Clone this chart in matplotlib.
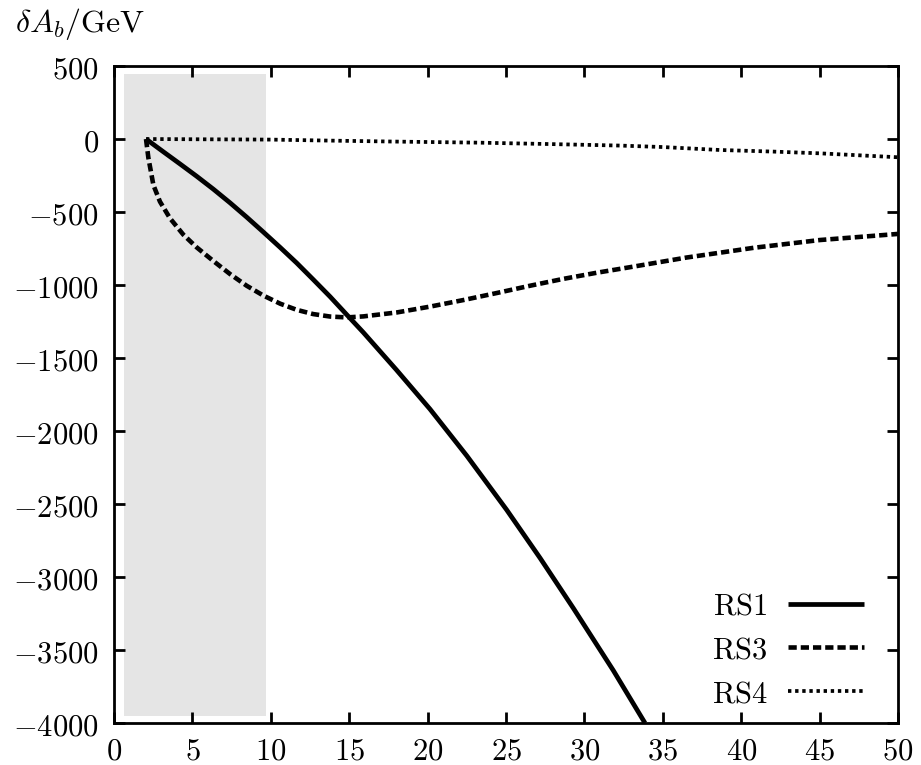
import matplotlib
matplotlib.use("Agg")
import matplotlib.pyplot as plt
from matplotlib.ticker import FuncFormatter, MultipleLocator
from matplotlib.patches import Rectangle

plt.rcParams["mathtext.fontset"] = "cm"
plt.rcParams["font.family"] = "DejaVu Serif"

# RS1: solid curve
rs1_x = [2.04, 3.14, 4.2, 5.27, 6.33, 7.4, 8.46, 9.52, 10.6, 11.65, 12.7,
         13.78, 14.84, 15.9, 18.0, 20.15, 22.5, 25.04, 27.17, 29.3, 31.84,
         33.86]
rs1_y = [0, -87, -170, -255, -343, -437, -535, -637, -743, -849, -962,
         -1080, -1203, -1325, -1580, -1850, -2170, -2540, -2870, -3215,
         -3640, -4000]

# RS3: dashed curve
rs3_x = [2.04, 2.19, 2.51, 2.93, 3.57, 4.42, 5.27, 6.33, 7.4, 8.46, 9.52,
         10.6, 11.65, 12.7, 13.78, 14.84, 15.9, 18.03, 20.15, 22.28, 24.4,
         26.53, 28.65, 30.78, 32.9, 36.5, 40.8, 45.0, 50.0]
rs3_y = [0, -128, -315, -429, -543, -655, -742, -835, -925, -1005, -1072,
         -1128, -1170, -1199, -1216, -1222, -1215, -1188, -1148, -1103,
         -1055, -1005, -958, -916, -878, -812, -745, -692, -650]

# RS4: dotted curve
rs4_x = [2.04, 6, 10, 13.8, 18.2, 23.3, 28, 32.3, 35, 38.6, 42, 45, 50]
rs4_y = [0, -2, -4, -11, -18, -25, -35, -45, -55, -75, -86, -98, -125]

# shaded band
band_x = [0.64, 9.7]
band_y = [-3955, 445]

series_labels = ["RS1", "RS3", "RS4"]

fig = plt.figure(figsize=(9.21, 7.65), dpi=100)
ax = fig.add_axes([0.1238, 0.0549, 0.8513, 0.8588])

ax.add_patch(Rectangle((band_x[0], band_y[0]), band_x[1] - band_x[0],
                       band_y[1] - band_y[0], facecolor="#e5e5e5",
                       edgecolor="none", zorder=0))

ax.plot(rs1_x, rs1_y, color="black", lw=3.4, solid_capstyle="butt",
        solid_joinstyle="round",
        label=r"$\mathrm{%s}$" % series_labels[0])
ax.plot(rs3_x, rs3_y, color="black", lw=3.3, linestyle=(0, (1.8, 0.87)),
        dash_capstyle="butt", label=r"$\mathrm{%s}$" % series_labels[1])
ax.plot(rs4_x, rs4_y, color="black", lw=2.7, linestyle=(0, (0.9, 1.0)),
        dash_capstyle="butt", label=r"$\mathrm{%s}$" % series_labels[2])

ax.set_xlim(0, 50)
ax.set_ylim(-4000, 500)
ax.xaxis.set_major_locator(MultipleLocator(5))
ax.yaxis.set_major_locator(MultipleLocator(500))
fmt = FuncFormatter(lambda v, p: r"$%d$" % int(round(v)))
ax.xaxis.set_major_formatter(fmt)
ax.yaxis.set_major_formatter(fmt)
ax.tick_params(direction="in", length=8, width=2, labelsize=22,
               top=True, right=True)
ax.tick_params(axis="x", pad=9)
ax.tick_params(axis="y", pad=11)
for s in ax.spines.values():
    s.set_linewidth(2)

leg = ax.legend(loc="lower right", bbox_to_anchor=(0.9566, 0.0213),
                frameon=False, fontsize=22, markerfirst=False,
                handlelength=2.5, handletextpad=0.65, labelspacing=0.42,
                borderpad=0, borderaxespad=0)

fig.text(15 / 921, 1 - 32 / 765, r"$\delta A_b/\mathrm{GeV}$", fontsize=23,
         ha="left", va="baseline")

fig.text(446 / 921, 1 + 9 / 765, r"$g_L$", fontsize=29, color="#00937d",
         ha="left", va="baseline")

fig.savefig("out.png", dpi=100)
